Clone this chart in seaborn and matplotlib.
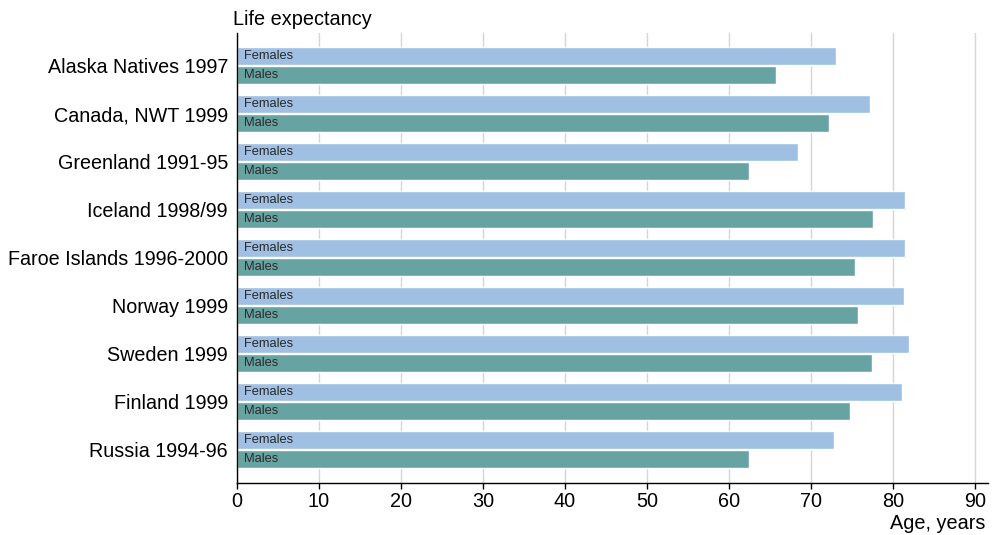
import matplotlib
matplotlib.use("Agg")
import matplotlib.pyplot as plt
import pandas as pd
import seaborn as sns

regions = [
    "Alaska Natives 1997",
    "Canada, NWT 1999",
    "Greenland 1991-95",
    "Iceland 1998/99",
    "Faroe Islands 1996-2000",
    "Norway 1999",
    "Sweden 1999",
    "Finland 1999",
    "Russia 1994-96",
]
females = [73.0, 77.2, 68.4, 81.5, 81.5, 81.3, 81.9, 81.1, 72.8]
males = [65.7, 72.2, 62.4, 77.6, 75.4, 75.7, 77.4, 74.7, 62.4]
sexes = ["Females", "Males"]
xticks = [0, 10, 20, 30, 40, 50, 60, 70, 80, 90]

df = pd.DataFrame({
    "region": regions * 2,
    "sex": [sexes[0]] * len(regions) + [sexes[1]] * len(regions),
    "age": females + males,
})

sns.set_theme(style="white")
plt.rcParams["font.family"] = ["Liberation Sans", "DejaVu Sans"]
plt.rcParams["text.color"] = "black"
plt.rcParams["xtick.color"] = "black"
plt.rcParams["ytick.color"] = "black"

fig = plt.figure(figsize=(9.99, 5.35), dpi=100)
ax = fig.add_axes([0.2372, 0.0972, 0.752, 0.8411])

sns.barplot(data=df, y="region", x="age", hue="sex", orient="h",
            palette={"Females": "#9fc0e3", "Males": "#68a3a3"},
            width=0.77, gap=0.03, order=regions, hue_order=sexes,
            legend=False, ax=ax, saturation=1)

# sex labels inside bars
for cont, sex in zip(ax.containers, sexes):
    for bar in cont:
        ax.text(0.8, bar.get_y() + bar.get_height() / 2, sex,
                va="center", ha="left", fontsize=9.3, color="#2b2b2b")

ax.set_xlim(0, 91.6)
ax.set_ylim(len(regions) - 1 + 0.70, -0.68)
ax.set_xticks(xticks)
ax.set_xticklabels([str(t) for t in xticks], fontsize=14.3)
ax.tick_params(axis="y", labelsize=14.2, length=0, pad=6.5)
ax.tick_params(axis="x", length=4, width=1, color="black", direction="out", pad=2.5)
ax.xaxis.set_ticks_position("bottom")
ax.grid(axis="x", color="#dcd3cc", linewidth=1)
ax.set_axisbelow(True)
for s in ["top", "right"]:
    ax.spines[s].set_visible(False)
for s in ["left", "bottom"]:
    ax.spines[s].set_color("black")
    ax.spines[s].set_linewidth(1)
ax.set_ylabel("")
ax.set_xlabel("")

fig.text(0.2332, 0.964, "Life expectancy", fontsize=14.3, ha="left", va="center")
fig.text(0.986, 0.021, "Age, years", fontsize=14.3, ha="right", va="center")

fig.savefig("out.png", dpi=100)
